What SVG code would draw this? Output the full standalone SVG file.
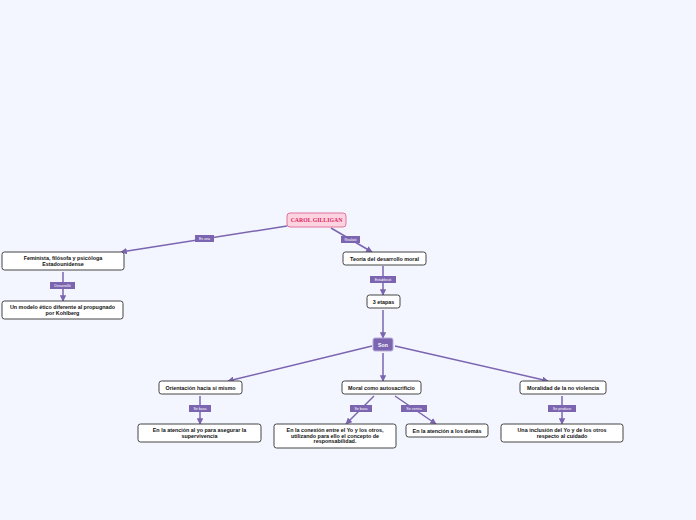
<svg xmlns="http://www.w3.org/2000/svg" width="696" height="520" viewBox="0 0 696 520">
<defs>
<marker id="ah" viewBox="0 0 10 10" refX="9" refY="5" markerWidth="6.5" markerHeight="6.5" orient="auto" markerUnits="userSpaceOnUse"><path d="M0,0 L10,5 L0,10 z" fill="#7b64b0"/></marker>
</defs>
<style>
.bg{fill:#f3f6ff}
.n{fill:#fff;stroke:#444;stroke-width:1}
.sh{fill:#c9cbd6}
.t{font-family:"Liberation Sans",Arial,sans-serif;font-size:5.4px;font-weight:bold;fill:#111;text-anchor:middle}
.c{stroke:#7b64b0;stroke-width:1.5;fill:none;marker-end:url(#ah)}
.lb{fill:#7b64b0}
.lt{font-family:"Liberation Sans",Arial,sans-serif;font-size:3.6px;fill:#fff;text-anchor:middle}
</style>
<rect class="bg" width="696" height="520"/>
<g id="connectors">
<path class="c" d="M287,226 L121,252"/>
<path class="c" d="M331,228 L372,252"/>
<path class="c" d="M63,272 L63,301"/>
<path class="c" d="M383,266 L383,295"/>
<path class="c" d="M383,310 L383,338"/>
<path class="c" d="M372,346 L228,381"/>
<path class="c" d="M383,353 L383,381"/>
<path class="c" d="M395,346 L548,381"/>
<path class="c" d="M200,396 L200,424"/>
<path class="c" d="M374,396 L346,424"/>
<path class="c" d="M395,396 L436,424"/>
<path class="c" d="M562,396 L562,424"/>
<rect class="lb" x="195" y="235" width="19" height="7"/><text class="lt" x="204.5" y="239.8">Es una</text>
<rect class="lb" x="341" y="236" width="19" height="7"/><text class="lt" x="350.5" y="240.8">Realizó</text>
<rect class="lb" x="50" y="282" width="25" height="7"/><text class="lt" x="62.5" y="286.8">Desarrolló</text>
<rect class="lb" x="370" y="276" width="26" height="7"/><text class="lt" x="383" y="280.8">Estableció</text>
<rect class="lb" x="189" y="405" width="22" height="7"/><text class="lt" x="200" y="409.8">Se basa</text>
<rect class="lb" x="350" y="405" width="22" height="7"/><text class="lt" x="361" y="409.8">Se basa</text>
<rect class="lb" x="401" y="405" width="26" height="7"/><text class="lt" x="414" y="409.8">Se centra</text>
<rect class="lb" x="548" y="405" width="28" height="7"/><text class="lt" x="562" y="409.8">Se produce</text>
</g>
<g id="n-carol">
<rect x="287" y="213" width="59" height="14" rx="3" fill="#fcd3e1" stroke="#e2729a" stroke-width="1"/>
<text x="316.5" y="222.2" font-family="Liberation Serif,Times New Roman,serif" font-size="5.8px" font-weight="bold" fill="#e0245e" text-anchor="middle">CAROL GILLIGAN</text>
</g>
<g id="n-feminista">
<rect class="n" x="2" y="252" width="122" height="18" rx="2.5"/>
<text class="t" x="63" y="260">Feminista, filósofa y psicóloga</text>
<text class="t" x="63" y="265.5">Estadounidense</text>
</g>
<g id="n-modelo">
<rect class="n" x="2" y="301" width="121" height="18" rx="2.5"/>
<text class="t" x="62.5" y="309">Un modelo ético diferente al propugnado</text>
<text class="t" x="62.5" y="314.5">por Kohlberg</text>
</g>
<g id="n-teoria">
<rect class="n" x="343" y="252" width="83" height="13" rx="2.5"/>
<text class="t" x="384.5" y="260.5">Teoría del desarrollo moral</text>
</g>
<g id="n-etapas">
<rect class="n" x="367" y="295" width="33" height="13" rx="2.5"/>
<text class="t" x="383.5" y="303.5">3 etapas</text>
</g>
<g id="n-son">
<rect x="373" y="338" width="20" height="13" rx="2" fill="#7b64b0" stroke="#b9abd9" stroke-width="1"/>
<text x="383" y="346.5" font-family="Liberation Sans,Arial,sans-serif" font-size="5.2px" font-weight="bold" fill="#fff" text-anchor="middle">Son</text>
</g>
<g id="n-orientacion">
<rect class="n" x="159" y="381" width="83" height="13" rx="2.5"/>
<text class="t" x="200.5" y="389.5">Orientación hacia sí mismo</text>
</g>
<g id="n-moral">
<rect class="n" x="342" y="381" width="79" height="13" rx="2.5"/>
<text class="t" x="381.5" y="389.5">Moral como autosacrificio</text>
</g>
<g id="n-moralidad">
<rect class="n" x="520" y="381" width="86" height="13" rx="2.5"/>
<text class="t" x="563" y="389.5">Moralidad de la no violencia</text>
</g>
<g id="n-atencion-yo">
<rect class="n" x="138" y="424" width="123" height="18" rx="2.5"/>
<text class="t" x="199.5" y="432">En la atención al yo para asegurar la</text>
<text class="t" x="199.5" y="437.5">supervivencia</text>
</g>
<g id="n-conexion">
<rect class="n" x="274" y="424" width="122" height="24" rx="2.5"/>
<text class="t" x="335" y="432">En la conexión entre el Yo y los otros,</text>
<text class="t" x="335" y="437.5">utilizando para ello el concepto de</text>
<text class="t" x="335" y="443">responsabilidad.</text>
</g>
<g id="n-demas">
<rect class="n" x="406" y="424" width="82" height="13" rx="2.5"/>
<text class="t" x="447" y="432.5">En la atención a los demás</text>
</g>
<g id="n-inclusion">
<rect class="n" x="501" y="424" width="122" height="18" rx="2.5"/>
<text class="t" x="562" y="432">Una inclusión del Yo y de los otros</text>
<text class="t" x="562" y="437.5">respecto al cuidado</text>
</g>
</svg>
